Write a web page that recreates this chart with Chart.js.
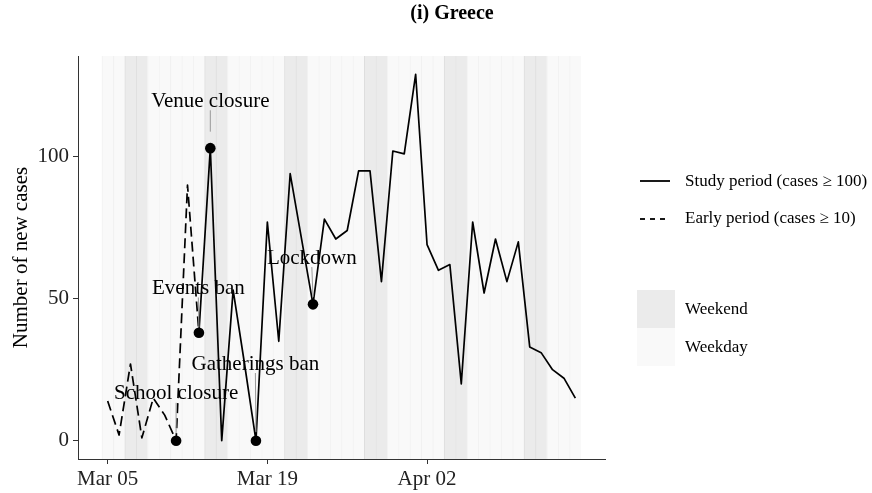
<!DOCTYPE html>
<html>
<head>
<meta charset="utf-8">
<script src="https://cdn.jsdelivr.net/npm/chart.js@4.4.0/dist/chart.umd.min.js"></script>
<style>
html, body { margin: 0; padding: 0; background: #fff; }
</style>
</head>
<body>
<canvas id="chart" width="872" height="493"></canvas>
<script>
// dates shown on the x axis (one per day, Mar 05 .. Apr 15)
const dates = ['Mar 05', 'Mar 06', 'Mar 07', 'Mar 08', 'Mar 09', 'Mar 10', 'Mar 11', 'Mar 12', 'Mar 13', 'Mar 14',
    'Mar 15', 'Mar 16', 'Mar 17', 'Mar 18', 'Mar 19', 'Mar 20', 'Mar 21', 'Mar 22', 'Mar 23', 'Mar 24',
    'Mar 25', 'Mar 26', 'Mar 27', 'Mar 28', 'Mar 29', 'Mar 30', 'Mar 31', 'Apr 01', 'Apr 02', 'Apr 03',
    'Apr 04', 'Apr 05', 'Apr 06', 'Apr 07', 'Apr 08', 'Apr 09', 'Apr 10', 'Apr 11', 'Apr 12', 'Apr 13',
    'Apr 14', 'Apr 15'];
const tickLabels = ['Mar 05', 'Mar 19', 'Apr 02'];
const yTicks = [0, 50, 100];
const weekendDates = ['Mar 07', 'Mar 08', 'Mar 14', 'Mar 15', 'Mar 21', 'Mar 22', 'Mar 28', 'Mar 29',
    'Apr 04', 'Apr 05', 'Apr 11', 'Apr 12'];

// early period (cases >= 10), Mar 05 .. Mar 13
const earlyStart = 'Mar 05';
const earlyCases = [14, 2, 27, 1, 15, 9, 0, 90, 38];
// study period (cases >= 100), Mar 13 .. Apr 15
const studyStart = 'Mar 13';
const studyCases = [38, 103, 0, 53, 27, 0, 77, 35, 94, 71, 48, 78, 71, 74, 95, 95, 56, 102, 101, 129,
    69, 60, 62, 20, 77, 52, 71, 56, 70, 33, 31, 25, 22, 15];

// interventions
const interventionNames = ['School closure', 'Events ban', 'Venue closure', 'Gatherings ban', 'Lockdown'];
const interventionDates = ['Mar 11', 'Mar 13', 'Mar 14', 'Mar 18', 'Mar 23'];

const SERIF = '"Liberation Serif", "Times New Roman", serif';
const yLow = -6.45, yHigh = 135.45;

const dayIndex = d => dates.indexOf(d);
const caseOn = d => {
    const i = dayIndex(d) - dayIndex(studyStart);
    if (i >= 0 && i < studyCases.length) return studyCases[i];
    return earlyCases[dayIndex(d) - dayIndex(earlyStart)];
};

// label placement (ggrepel-ish), in data units
const labelSpots = [
    { dx: 0, y: 16.5, gap: 2 },
    { dx: -0.05, y: 53.6, gap: 0 },
    { dx: 0, y: 119.5, gap: 11 },
    { dx: -0.05, y: 27, gap: 3 },
    { dx: -0.1, y: 64.3, gap: 2 }
];

const extras = {
    id: 'extras',
    afterDatasetsDraw(chart) {
        const { ctx } = chart;
        const xs = chart.scales.x, ys = chart.scales.y;
        ctx.save();
        // annotation segments + labels
        ctx.font = '21px ' + SERIF;
        ctx.textAlign = 'center';
        ctx.textBaseline = 'middle';
        interventionNames.forEach((name, i) => {
            const d = dayIndex(interventionDates[i]);
            const px = xs.getPixelForValue(d);
            const py = ys.getPixelForValue(caseOn(interventionDates[i]));
            const lx = xs.getPixelForValue(d + labelSpots[i].dx);
            const ly = ys.getPixelForValue(labelSpots[i].y);
            const dir = py > ly ? 1 : -1;
            ctx.strokeStyle = '#999';
            ctx.lineWidth = 1;
            ctx.beginPath();
            ctx.moveTo(lx, ly + dir * 9);
            ctx.lineTo(px, py - dir * (5.5 + labelSpots[i].gap));
            ctx.stroke();
        });
        interventionNames.forEach((name, i) => {
            const d = dayIndex(interventionDates[i]);
            ctx.fillStyle = '#000';
            ctx.fillText(name, xs.getPixelForValue(d + labelSpots[i].dx), ys.getPixelForValue(labelSpots[i].y));
        });

        // title
        ctx.font = 'bold 20px ' + SERIF;
        ctx.fillText('(i) Greece', 452, 14);

        // legend
        ctx.textAlign = 'left';
        ctx.font = '17px ' + SERIF;
        ctx.strokeStyle = '#000';
        ctx.lineWidth = 1.8;
        ctx.beginPath();
        ctx.moveTo(640, 181); ctx.lineTo(670, 181);
        ctx.stroke();
        ctx.setLineDash([5, 5]);
        ctx.beginPath();
        ctx.moveTo(640, 219); ctx.lineTo(670, 219);
        ctx.stroke();
        ctx.setLineDash([]);
        ctx.fillText('Study period (cases \u2265 100)', 685, 182);
        ctx.fillText('Early period (cases \u2265 10)', 685, 219);
        ctx.fillStyle = '#ebebeb';
        ctx.fillRect(637, 290, 38, 38);
        ctx.fillStyle = '#f9f9f9';
        ctx.fillRect(637, 328, 38, 38);
        ctx.fillStyle = '#000';
        ctx.fillText('Weekend', 685, 310);
        ctx.fillText('Weekday', 685, 348);
        ctx.restore();
    }
};

const isWeekend = i => weekendDates.includes(dates[i]);

new Chart(document.getElementById('chart'), {
    data: {
        datasets: [
            {
                type: 'bar',
                data: dates.map((d, i) => ({ x: i, y: [yLow, yHigh] })),
                backgroundColor: c => isWeekend(c.dataIndex) ? '#ebebeb' : '#f9f9f9',
                borderColor: c => isWeekend(c.dataIndex) ? '#dedede' : '#f1f1f1',
                borderWidth: { left: 1, right: 0, top: 0, bottom: 0 },
                borderSkipped: false,
                barPercentage: 1,
                categoryPercentage: 1,
                order: 3
            },
            {
                type: 'line',
                data: earlyCases.map((v, i) => ({ x: dayIndex(earlyStart) + i, y: v })),
                borderColor: '#000',
                borderWidth: 1.7,
                borderDash: [10, 5],
                borderJoinStyle: 'round',
                pointRadius: 0,
                tension: 0,
                order: 2
            },
            {
                type: 'line',
                data: studyCases.map((v, i) => ({ x: dayIndex(studyStart) + i, y: v })),
                borderColor: '#000',
                borderWidth: 1.7,
                borderJoinStyle: 'round',
                pointRadius: 0,
                tension: 0,
                order: 1
            },
            {
                type: 'scatter',
                data: interventionDates.map(d => ({ x: dayIndex(d), y: caseOn(d) })),
                backgroundColor: '#000',
                borderWidth: 0,
                pointRadius: 5.3,
                order: 0
            }
        ]
    },
    options: {
        responsive: false,
        animation: false,
        events: [],
        layout: { padding: { top: 56, right: 267, bottom: 0, left: 0 } },
        plugins: { legend: { display: false }, tooltip: { enabled: false } },
        scales: {
            x: {
                type: 'linear',
                min: -2.6,
                max: 43.6,
                offset: false,
                afterBuildTicks: s => { s.ticks = tickLabels.map(t => ({ value: dayIndex(t) })); },
                afterFit: s => { s.height = 34; },
                ticks: {
                    callback: v => dates[v],
                    font: { family: SERIF, size: 21 },
                    color: '#222',
                    padding: 3,
                    maxRotation: 0,
                    autoSkip: false
                },
                grid: { offset: false, drawOnChartArea: false, tickLength: 5, color: '#333' },
                border: { color: '#333', width: 1 }
            },
            y: {
                min: yLow,
                max: yHigh,
                afterBuildTicks: s => { s.ticks = yTicks.map(v => ({ value: v })); },
                afterFit: s => { s.width = 78; },
                ticks: {
                    font: { family: SERIF, size: 21 },
                    color: '#222',
                    padding: 4
                },
                grid: { drawOnChartArea: false, tickLength: 5, color: '#333' },
                border: { color: '#333', width: 1 },
                title: {
                    display: true,
                    text: 'Number of new cases',
                    font: { family: SERIF, size: 21 },
                    color: '#000',
                    padding: { top: 9, bottom: 0 }
                }
            }
        }
    },
    plugins: [extras]
});
</script>
</body>
</html>
